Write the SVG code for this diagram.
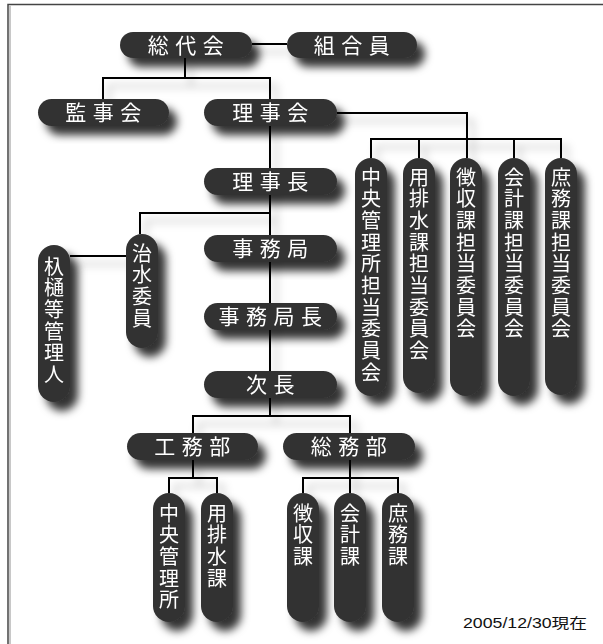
<svg xmlns="http://www.w3.org/2000/svg" width="603" height="644" viewBox="0 0 603 644">
<defs>
<filter id="sh" x="-40%" y="-40%" width="200%" height="200%">
<feDropShadow dx="8" dy="9" stdDeviation="4.5" flood-color="#000" flood-opacity="0.8"/>
</filter>
<filter id="lsh" x="-10%" y="-50%" width="130%" height="300%">
<feDropShadow dx="6" dy="8" stdDeviation="4" flood-color="#000" flood-opacity="0.3"/>
</filter>
</defs>
<style>
.p{fill:#333333}
.t{fill:#ffffff;font-family:"Noto Sans CJK JP","Noto Sans CJK SC",sans-serif;font-size:21px;letter-spacing:6.5px;text-anchor:middle}
.v{fill:#ffffff;font-family:"Noto Sans CJK JP","Noto Sans CJK SC",sans-serif;font-size:20px;letter-spacing:1.7px;writing-mode:vertical-rl;text-orientation:upright}
.c{stroke:#000;stroke-width:2;fill:none}
</style>
<rect x="0" y="0" width="603" height="644" fill="#ffffff"/>
<path d="M8,644 V4.5 H603" fill="none" stroke="#444" stroke-width="1.5"/>
<line x1="10" y1="5.5" x2="10" y2="644" stroke="#c8c8c8" stroke-width="2"/>

<g id="connectors" class="c" filter="url(#lsh)">
<path d="M252,44 H287"/>
<path d="M185,58 V78 M103,99 V78 H270 V99"/>
<path d="M337,113 H467 V139 M371,158 V139 H561 V158 M419,139 V158 M467,139 V158 M514,139 V158"/>
<path d="M270,126 V416"/>
<path d="M270,213 H140 V234"/>
<path d="M70,256 H126"/>
<path d="M193,433 V416 H350 V433"/>
<path d="M193,460 V478 M169,493 V478 H217 V493"/>
<path d="M350,460 V478 M303,493 V478 H398 V493 M350,478 V493"/>
</g>

<g id="n-sodaikai" filter="url(#sh)"><rect class="p" x="120" y="32" width="132" height="26" rx="13"/><text class="t" x="189" y="52.5">総代会</text></g>
<g id="n-kumiaiin" filter="url(#sh)"><rect class="p" x="287" y="32" width="130" height="26" rx="13"/><text class="t" x="355" y="52.5">組合員</text></g>
<g id="n-kanjikai" filter="url(#sh)"><rect class="p" x="38" y="99" width="131" height="27" rx="13.5"/><text class="t" x="106.5" y="120">監事会</text></g>
<g id="n-rijikai" filter="url(#sh)"><rect class="p" x="204" y="99" width="133" height="27" rx="13.5"/><text class="t" x="273.5" y="120">理事会</text></g>
<g id="n-rijicho" filter="url(#sh)"><rect class="p" x="204" y="168" width="133" height="27" rx="13.5"/><text class="t" x="273.5" y="189">理事長</text></g>
<g id="n-jimukyoku" filter="url(#sh)"><rect class="p" x="204" y="235" width="133" height="27" rx="13.5"/><text class="t" x="273.5" y="256">事務局</text></g>
<g id="n-jimukyokucho" filter="url(#sh)"><rect class="p" x="204" y="303" width="133" height="27" rx="13.5"/><text class="t" x="273.5" y="324">事務局長</text></g>
<g id="n-jicho" filter="url(#sh)"><rect class="p" x="204" y="371" width="133" height="27" rx="13.5"/><text class="t" x="273.5" y="392">次長</text></g>
<g id="n-komubu" filter="url(#sh)"><rect class="p" x="127" y="433" width="131" height="27" rx="13.5"/><text class="t" x="195.5" y="454">工務部</text></g>
<g id="n-somubu" filter="url(#sh)"><rect class="p" x="283" y="433" width="132" height="27" rx="13.5"/><text class="t" x="352" y="454">総務部</text></g>

<g id="n-c-chuo" filter="url(#sh)"><rect class="p" x="355" y="158" width="32" height="238" rx="16"/><text class="v" x="371" y="167">中央管理所担当委員会</text></g>
<g id="n-c-yohaisui" filter="url(#sh)"><rect class="p" x="403" y="158" width="32" height="235" rx="16"/><text class="v" x="419" y="167">用排水課担当委員会</text></g>
<g id="n-c-choshu" filter="url(#sh)"><rect class="p" x="450" y="158" width="32" height="238" rx="16"/><text class="v" x="466" y="167">徴収課担当委員会</text></g>
<g id="n-c-kaikei" filter="url(#sh)"><rect class="p" x="498" y="158" width="32" height="238" rx="16"/><text class="v" x="514" y="167">会計課担当委員会</text></g>
<g id="n-c-shomu" filter="url(#sh)"><rect class="p" x="545" y="158" width="32" height="237" rx="16"/><text class="v" x="561" y="167">庶務課担当委員会</text></g>

<g id="n-chisui" filter="url(#sh)"><rect class="p" x="126" y="234" width="32" height="114" rx="16"/><text class="v" x="142" y="243">治水委員</text></g>
<g id="n-ehi" filter="url(#sh)"><rect class="p" x="38" y="245" width="32" height="157" rx="16"/><text class="v" x="54" y="256">杁樋等管理人</text></g>

<g id="n-chuo" filter="url(#sh)"><rect class="p" x="153" y="493" width="32" height="129" rx="16"/><text class="v" x="169" y="503">中央管理所</text></g>
<g id="n-yohaisui" filter="url(#sh)"><rect class="p" x="201" y="493" width="32" height="129" rx="16"/><text class="v" x="217" y="503">用排水課</text></g>
<g id="n-choshu" filter="url(#sh)"><rect class="p" x="287" y="493" width="32" height="129" rx="16"/><text class="v" x="303" y="503">徴収課</text></g>
<g id="n-kaikei" filter="url(#sh)"><rect class="p" x="334" y="493" width="32" height="129" rx="16"/><text class="v" x="350" y="503">会計課</text></g>
<g id="n-shomu" filter="url(#sh)"><rect class="p" x="382" y="493" width="32" height="129" rx="16"/><text class="v" x="398" y="503">庶務課</text></g>

<text id="date" x="463" y="628" font-family="'Liberation Sans','Noto Sans CJK JP',sans-serif" font-size="14" fill="#111" textLength="124" lengthAdjust="spacingAndGlyphs">2005/12/30現在</text>
</svg>
